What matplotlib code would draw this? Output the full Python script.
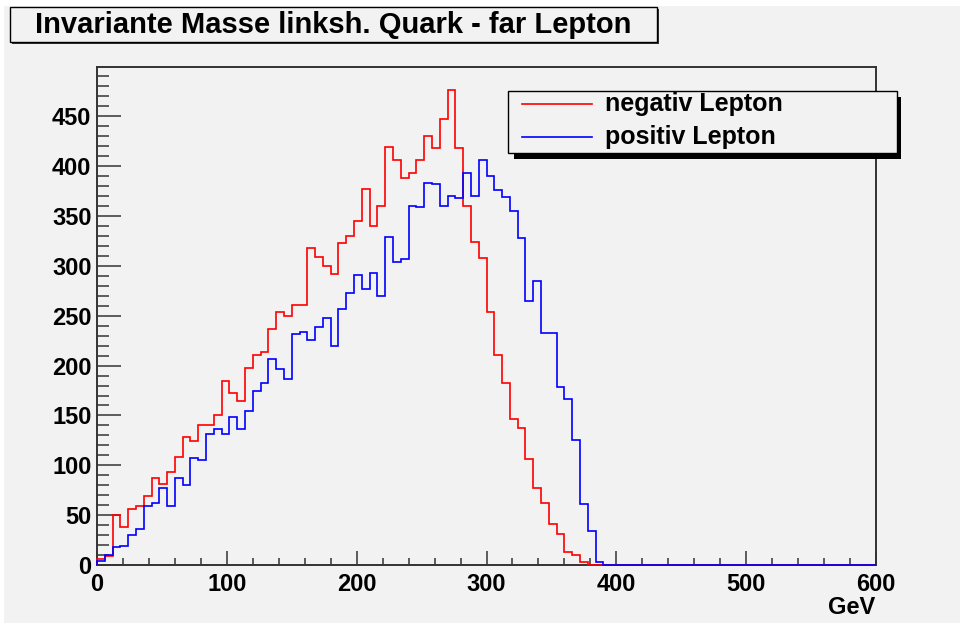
import numpy as np
import matplotlib
matplotlib.use("Agg")
import matplotlib.pyplot as plt
from matplotlib.patches import Rectangle
from matplotlib.lines import Line2D
from matplotlib.ticker import MultipleLocator

plt.rcParams['font.family'] = ['Liberation Sans', 'DejaVu Sans']
plt.rcParams['font.weight'] = 'bold'

W, H = 960, 626
BG = '#f2f2f2'

title = "Invariante Masse linksh. Quark - far Lepton"
x_label = "GeV"
series_labels = ["negativ Lepton", "positiv Lepton"]
series_colors = ["#ff0000", "#0000ff"]

# 100 bins of 6 GeV from 0 to 600
bin_edges = np.linspace(0, 600, 101)

neg_counts = [
    6, 9, 50, 38, 56, 59, 69, 87, 81, 93,
    108, 128, 124, 140, 140, 150, 185, 173, 164, 198,
    211, 214, 237, 254, 250, 261, 261, 318, 309, 300,
    292, 323, 330, 345, 377, 340, 360, 419, 406, 388,
    393, 406, 430, 418, 447, 476, 418, 360, 324, 308,
    254, 211, 183, 146, 137, 106, 77, 62, 41, 31,
    13, 10, 3, 0, 0, 0, 0, 0, 0, 0,
    0, 0, 0, 0, 0, 0, 0, 0, 0, 0,
    0, 0, 0, 0, 0, 0, 0, 0, 0, 0,
    0, 0, 0, 0, 0, 0, 0, 0, 0, 0,
]
pos_counts = [
    4, 10, 18, 19, 30, 36, 59, 62, 77, 59,
    87, 80, 107, 105, 131, 136, 131, 148, 136, 154,
    175, 183, 207, 197, 187, 232, 234, 226, 239, 248,
    220, 257, 273, 291, 277, 293, 270, 329, 304, 307,
    360, 359, 383, 382, 360, 370, 368, 393, 370, 406,
    390, 376, 369, 355, 328, 265, 285, 233, 233, 179,
    166, 125, 61, 34, 3, 0, 0, 0, 0, 0,
    0, 0, 0, 0, 0, 0, 0, 0, 0, 0,
    0, 0, 0, 0, 0, 0, 0, 0, 0, 0,
    0, 0, 0, 0, 0, 0, 0, 0, 0, 0,
]


def rect(fig, x0, y0, x1, y1, **kw):
    # rectangle given in pixel coords, origin top-left
    r = Rectangle((x0 / W, 1 - y1 / H), (x1 - x0) / W, (y1 - y0) / H,
                  transform=fig.transFigure, **kw)
    fig.add_artist(r)
    return r


fig = plt.figure(figsize=(W / 100, H / 100), dpi=100, facecolor='white')

# grey canvas
rect(fig, 4, 6, W, 623, facecolor=BG, edgecolor='none', zorder=-1)

ax = fig.add_axes([97 / W, 1 - 565 / H, (876 - 97) / W, (565 - 67) / H])
ax.set_facecolor(BG)

ax.stairs(neg_counts, bin_edges, color=series_colors[0], lw=1.2,
          zorder=3, clip_on=False)
ax.stairs(pos_counts, bin_edges, color=series_colors[1], lw=1.2,
          zorder=3, clip_on=False)

ax.set_xlim(0, 600)
ax.set_ylim(0, 499.5)
ax.xaxis.set_major_locator(MultipleLocator(100))
ax.xaxis.set_minor_locator(MultipleLocator(20))
ax.yaxis.set_major_locator(MultipleLocator(50))
ax.yaxis.set_minor_locator(MultipleLocator(10))

ax.tick_params(which='both', direction='in', top=False, right=False,
               color='#333333', width=1.1, labelsize=17, labelcolor='black')
ax.tick_params(axis='x', which='major', length=10, pad=6)
ax.tick_params(axis='x', which='minor', length=5)
ax.tick_params(axis='y', which='major', length=17, pad=4)
ax.tick_params(axis='y', which='minor', length=8.5)
for lab in ax.get_xticklabels() + ax.get_yticklabels():
    lab.set_fontweight('bold')

for side in ['left', 'bottom', 'top', 'right']:
    ax.spines[side].set_color('#333333')
    ax.spines[side].set_linewidth(1.4)

fig.text(875 / W, 1 - 607 / H, x_label, ha='right', va='center',
         fontsize=17, fontweight='bold')

# title box with shadow
rect(fig, 12, 9, 659, 44, facecolor='#333333', edgecolor='none', zorder=4)
rect(fig, 10, 7, 657, 42, facecolor=BG, edgecolor='black', lw=1, zorder=5)
fig.text(333.5 / W, 1 - 25 / H, title, ha='center', va='center',
         fontsize=21, fontweight='bold', zorder=6)

# legend box with shadow
rect(fig, 514, 97, 901, 159, facecolor='black', edgecolor='none', zorder=4)
rect(fig, 508, 91, 897, 153, facecolor=BG, edgecolor='black', lw=1, zorder=5)
for i, (lab, col) in enumerate(zip(series_labels, series_colors)):
    yy = 104 + 33 * i
    fig.add_artist(Line2D([522 / W, 592 / W], [1 - yy / H, 1 - yy / H],
                          transform=fig.transFigure, color=col, lw=1.2,
                          zorder=6))
    fig.text(605 / W, 1 - yy / H, lab, ha='left', va='center',
             fontsize=18, fontweight='bold', zorder=6)

fig.savefig('out.png', dpi=100, facecolor='white')
